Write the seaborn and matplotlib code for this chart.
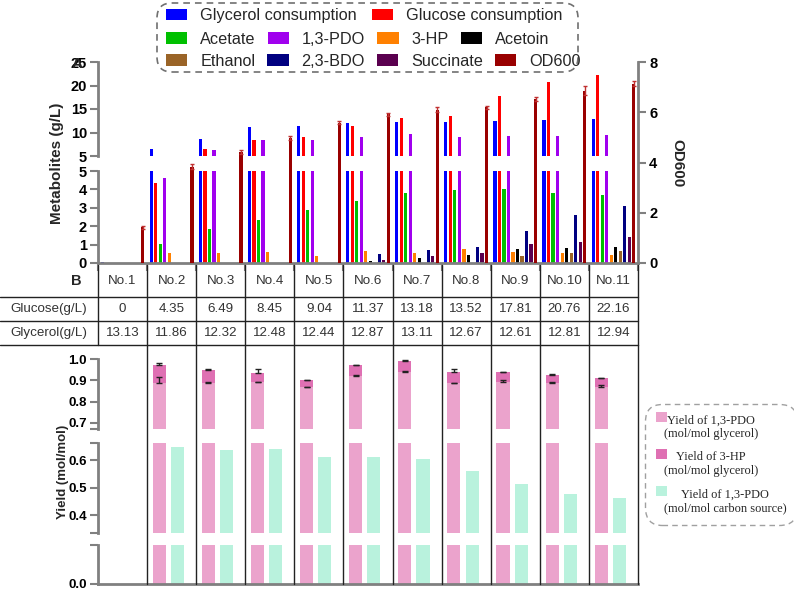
import numpy as np
import pandas as pd
import matplotlib
matplotlib.use("Agg")
import matplotlib.pyplot as plt
import seaborn as sns
from matplotlib import font_manager
from matplotlib.patches import Patch, FancyBboxPatch, Rectangle
from matplotlib.legend_handler import HandlerPatch

# ── Data ──────────────────────────────────────────────────────────────────────
groups = ["No.1", "No.2", "No.3", "No.4", "No.5", "No.6",
          "No.7", "No.8", "No.9", "No.10", "No.11"]

glucose_gl  = [0, 4.35, 6.49, 8.45, 9.04, 11.37, 13.18, 13.52, 17.81, 20.76, 22.16]
glycerol_gl = [13.13, 11.86, 12.32, 12.48, 12.44, 12.87, 13.11, 12.67, 12.61, 12.81, 12.94]

glycerol_cons = [0.08, 6.4, 8.6, 11.2, 11.4, 12.0, 12.2, 12.2, 12.4, 12.7, 12.8]
glucose_cons  = [0, 4.35, 6.49, 8.45, 9.04, 11.37, 13.18, 13.52, 17.81, 20.76, 22.16]
acetate       = [0, 1.03, 1.83, 2.34, 2.9, 3.37, 3.8, 3.97, 4.0, 3.82, 3.72]
pdo           = [0, 4.6, 6.3, 8.4, 8.4, 9.1, 9.6, 9.1, 9.3, 9.3, 9.5]
hp3           = [0, 0.56, 0.53, 0.62, 0.4, 0.67, 0.56, 0.75, 0.58, 0.53, 0.43]
acetoin       = [0, 0, 0, 0, 0, 0.13, 0.25, 0.43, 0.76, 0.8, 0.89]
ethanol       = [0, 0, 0, 0, 0, 0, 0, 0, 0.38, 0.56, 0.67]
bdo           = [0, 0, 0, 0, 0, 0.47, 0.7, 0.87, 1.76, 2.6, 3.1]
succinate     = [0, 0, 0, 0, 0, 0.16, 0.4, 0.56, 1.02, 1.16, 1.43]
od600         = [1.42, 3.84, 4.43, 4.99, 5.59, 5.92, 6.1, 6.2, 6.52, 6.85, 7.13]
od600_err     = [0.05, 0.1, 0.08, 0.08, 0.06, 0.07, 0.1, 0.06, 0.08, 0.18, 0.1]

pdo_yield      = [np.nan, 0.886, 0.889, 0.89, 0.867, 0.92, 0.94, 0.886, 0.893, 0.886, 0.87]
hp_yield       = [np.nan, 0.084, 0.059, 0.046, 0.033, 0.05, 0.049, 0.054, 0.044, 0.039, 0.039]
carbon_yield   = [np.nan, 0.648, 0.636, 0.639, 0.612, 0.611, 0.604, 0.56, 0.512, 0.478, 0.461]
pdo_yield_err  = [np.nan, 0.03, 0.005, 0.003, 0.003, 0.005, 0.005, 0.003, 0.01, 0.004, 0.01]
tot_yield_err  = [np.nan, 0.012, 0.005, 0.018, 0.003, 0.004, 0.004, 0.012, 0.003, 0.003, 0.004]

series_names = ["Glycerol consumption", "Glucose consumption", "Acetate", "1,3-PDO",
                "3-HP", "Acetoin", "Ethanol", "2,3-BDO", "Succinate", "OD600"]
series_values = [glycerol_cons, glucose_cons, acetate, pdo, hp3,
                 acetoin, ethanol, bdo, succinate, od600]
palette = {
    "Glycerol consumption": "#0000FF", "Glucose consumption": "#FF0000",
    "Acetate": "#00C000", "1,3-PDO": "#A000EE", "3-HP": "#FF8000",
    "Acetoin": "#000000", "Ethanol": "#9A6427", "2,3-BDO": "#000080",
    "Succinate": "#5A004F", "OD600": "#990000",
}
LIGHT_PINK, DARK_PINK, TEAL = "#EBA3CC", "#DF70B3", "#B9F2DD"
GRAY = "#808080"

# ── Style ─────────────────────────────────────────────────────────────────────
sns.set_style("ticks")
plt.rcParams['font.family'] = ['Liberation Sans', 'DejaVu Sans']
installed = {f.name for f in font_manager.fontManager.ttflist}
NARROW = 'Liberation Sans Narrow' if 'Liberation Sans Narrow' in installed else 'Liberation Sans'
TABLE_SIZE = 10.5 if NARROW == 'Liberation Sans Narrow' else 9.6

W, H = 794, 591
fig = plt.figure(figsize=(W / 100, H / 100), dpi=100)


def px_axes(x0, y0, x1, y1):
    return fig.add_axes([x0 / W, 1 - y1 / H, (x1 - x0) / W, (y1 - y0) / H])


def style_left(ax, ticks, labels, size):
    ax.set_yticks(ticks, labels, fontweight='bold', fontsize=size)
    ax.tick_params(axis='y', direction='out', length=6, width=1.5, color=GRAY, labelcolor='black', pad=2)
    ax.spines['left'].set_color(GRAY)
    ax.spines['left'].set_linewidth(2)
    for s in ['top', 'right', 'bottom']:
        ax.spines[s].set_visible(False)
    ax.set_xticks([])
    ax.set_xlabel(''); ax.set_ylabel('')
    ax.set_facecolor('none')


def first_line_patch(legend, orig_handle, xdescent, ydescent, width, height, fontsize):
    # square next to the first line of a two-line label
    return Rectangle((-xdescent, -ydescent + 0.85 * fontsize), width, height)


# ── Panel A ───────────────────────────────────────────────────────────────────
wide = pd.DataFrame(dict(zip(series_names, series_values)), index=groups)
long = wide.rename_axis("group").reset_index().melt(id_vars="group", var_name="series", value_name="value")
met_long = long[long.series != "OD600"]
od_long = long[long.series == "OD600"]

bar_kw = dict(x="group", y="value", hue="series", order=groups, hue_order=series_names,
              palette=palette, dodge=True, width=0.92, gap=0.3, saturation=1,
              linewidth=0, errorbar=None, legend=False)

ax_up = px_axes(98, 62, 638, 156)
ax_lo = px_axes(98, 171, 638, 263)
ax_od = px_axes(98, 62, 638, 263)

for ax in (ax_up, ax_lo):
    sns.barplot(data=met_long, ax=ax, **bar_kw)
    ax.set_xlim(-0.5, 10.5)

ax_up.set_ylim(5, 25)
style_left(ax_up, [5, 10, 15, 20, 25], ['5', '10', '15', '20', '25'], 10.5)
ax_lo.set_ylim(0, 5)
style_left(ax_lo, [0, 1, 2, 3, 4, 5], ['0', '1', '2', '3', '4', '5'], 10.5)
ax_lo.spines['bottom'].set_visible(True)
ax_lo.spines['bottom'].set_color(GRAY)
ax_lo.spines['bottom'].set_linewidth(2)
ax_lo.set_xticks(np.arange(-0.5, 11, 1), [''] * 12)
ax_lo.tick_params(axis='x', direction='out', length=6, width=1.5, color=GRAY)

sns.barplot(data=od_long, ax=ax_od, **bar_kw)
ax_od.set_xlim(-0.5, 10.5)
ax_od.set_ylim(0, 8)
ax_od.set_facecolor('none')
od_bars = [p for p in ax_od.patches if p.get_height() > 0]
ax_od.errorbar([p.get_x() + p.get_width() / 2 for p in od_bars],
               [p.get_height() for p in od_bars], yerr=od600_err,
               fmt='none', ecolor='#C03030', elinewidth=1, capsize=1.2, capthick=1)
for s in ['top', 'left', 'bottom']:
    ax_od.spines[s].set_visible(False)
ax_od.spines['right'].set_color(GRAY)
ax_od.spines['right'].set_linewidth(2)
ax_od.yaxis.tick_right()
ax_od.set_yticks([0, 2, 4, 6, 8], ['0', '2', '4', '6', '8'], fontweight='bold', fontsize=10.5)
ax_od.tick_params(axis='y', direction='out', length=6, width=1.5, color=GRAY, labelcolor='black', pad=2)
ax_od.set_xticks([])
ax_od.set_xlabel(''); ax_od.set_ylabel('')

fig.text(57 / W, 1 - 163 / H, "Metabolites (g/L)", rotation=90, fontsize=11,
         fontweight='bold', ha='center', va='center')
fig.text(677 / W, 1 - 163 / H, "OD600", rotation=270, fontsize=11,
         fontweight='bold', ha='center', va='center')
fig.text(77 / W, 1 - 64 / H, "A", fontsize=11, fontweight='bold', ha='center', va='center')

# legend of panel A (three rows in a dashed rounded box)
rows = [series_names[0:2], series_names[2:6], series_names[6:10]]
row_y = [15.7, 39.3, 61.5]
row_gap = [0.95, 0.75, 0.75]
for names, yc, cs in zip(rows, row_y, row_gap):
    fig.legend([Patch(facecolor=palette[n], edgecolor='none') for n in names], names,
               loc='center left', bbox_to_anchor=(166 / W, 1 - yc / H), ncol=len(names),
               frameon=False, borderpad=0, borderaxespad=0, handlelength=1.3,
               handleheight=0.75, handletextpad=0.8, columnspacing=cs,
               prop={'family': 'Liberation Sans', 'size': 11.7})
fig.add_artist(FancyBboxPatch((1.57, (H - 72) / 100), 4.21, 0.69,
                              boxstyle='round,pad=0,rounding_size=0.15',
                              transform=fig.dpi_scale_trans, fill=False,
                              ls=(0, (4, 3)), ec='#707070', lw=1.2))

# ── Panel B: yields (broken axis in three segments) ──────────────────────────
tot_df = pd.DataFrame({
    "group": groups * 2,
    "kind": ["pdo"] * 11 + ["carbon"] * 11,
    "value": list(np.add(pdo_yield, hp_yield)) + carbon_yield,
})
pdo_df = pd.DataFrame({"group": groups, "kind": ["pdo"] * 11, "value": pdo_yield})

ykw = dict(x="group", y="value", hue="kind", order=groups, hue_order=["pdo", "carbon"],
           dodge=True, width=0.74, gap=0.28, saturation=1, linewidth=0,
           errorbar=None, legend=False)

segments = [
    ((359, 429), (0.671, 1.0), [0.671, 0.7, 0.8, 0.9, 1.0], ['', '0.7', '0.8', '0.9', '1.0']),
    ((443, 533), (0.335, 0.662), [0.335, 0.4, 0.5, 0.6, 0.662], ['', '0.4', '0.5', '0.6', '']),
    ((545, 584), (0.0, 0.2), [0.0, 0.2], ['0.0', '']),
]
yield_axes = []
for (y0, y1), lim, ticks, labels in segments:
    ax = px_axes(98, y0, 638, y1)
    sns.barplot(data=tot_df, ax=ax, palette={"pdo": DARK_PINK, "carbon": TEAL}, **ykw)
    n0 = len(ax.patches)
    sns.barplot(data=pdo_df, ax=ax, palette={"pdo": LIGHT_PINK, "carbon": TEAL}, **ykw)
    ax.set_xlim(-0.435, 10.565)
    ax.set_ylim(*lim)
    style_left(ax, ticks, labels, 9.5)
    yield_axes.append((ax, ax.patches[n0:]))

ax_y1, pdo_bars = yield_axes[0]
pdo_bars = [p for p in pdo_bars if np.isfinite(p.get_height()) and p.get_height() > 0]
xs = [p.get_x() + p.get_width() / 2 for p in pdo_bars]
pv = np.array(pdo_yield[1:])
tv = np.add(pdo_yield, hp_yield)[1:]
ax_y1.errorbar(xs, pv, yerr=[np.zeros(10), pdo_yield_err[1:]], fmt='none',
               ecolor='#222222', elinewidth=1, capsize=2.5, capthick=1)
ax_y1.errorbar(xs, tv, yerr=[np.zeros(10), tot_yield_err[1:]], fmt='none',
               ecolor='#222222', elinewidth=1, capsize=2.5, capthick=1)

ax_y3 = yield_axes[2][0]
ax_y3.spines['bottom'].set_visible(True)
ax_y3.spines['bottom'].set_color(GRAY)
ax_y3.spines['bottom'].set_linewidth(2)

fig.text(63 / W, 1 - 472 / H, "Yield (mol/mol)", rotation=90, fontsize=9.5,
         fontweight='bold', ha='center', va='center')

yield_handles = [Patch(facecolor=c, edgecolor='none') for c in (LIGHT_PINK, DARK_PINK, TEAL)]
leg = fig.legend(yield_handles,
                 ["Yield of 1,3-PDO\n(mol/mol glycerol)", "Yield of 3-HP\n(mol/mol glycerol)",
                  "Yield of 1,3-PDO\n(mol/mol carbon source)"],
                 handler_map={Patch: HandlerPatch(patch_func=first_line_patch)},
                 loc='upper left', bbox_to_anchor=(645 / W, 1 - 404 / H), frameon=True,
                 fancybox=True, handlelength=0.95, handleheight=0.95, handletextpad=-0.3,
                 labelspacing=0.9, borderpad=0.85, borderaxespad=0,
                 prop={'family': 'Liberation Serif', 'size': 8.9})
frame = leg.get_frame()
frame.set_linestyle((0, (4, 3)))
frame.set_edgecolor('#888888')
frame.set_linewidth(1)
frame.set_boxstyle('round', pad=0, rounding_size=1.4)
for t in leg.get_texts():
    t.set_multialignment('center')

# ── Table B and column lines ─────────────────────────────────────────────────
ax_grid = px_axes(98, 263, 638, 584)
ax_grid.set_xlim(-0.5, 10.5)
ax_grid.set_ylim(584, 263)
ax_grid.axis('off')
left_frac = -98 / 540
line_kw = dict(color='#222222', lw=1, clip_on=False)
for yl in (297, 321, 345):
    ax_grid.plot([left_frac, 1], [yl, yl], transform=ax_grid.get_yaxis_transform(), **line_kw)
for xb in np.arange(-0.5, 11, 1):
    ax_grid.plot([xb, xb], [265, 345], **line_kw)
for xb in np.arange(0.5, 11, 1):
    ax_grid.plot([xb, xb], [345, 584], **line_kw)

txt_kw = dict(ha='center', va='center', fontsize=TABLE_SIZE, family=NARROW, color='#333333')
for i, g in enumerate(groups):
    ax_grid.text(i, 281, g, **txt_kw)
    ax_grid.text(i, 309, f"{glucose_gl[i]:g}", **txt_kw)
    ax_grid.text(i, 333, f"{glycerol_gl[i]:g}", **txt_kw)
lab_x = -49 / 540
ax_grid.text(lab_x, 309, "Glucose(g/L)", transform=ax_grid.get_yaxis_transform(), **txt_kw)
ax_grid.text(lab_x, 333, "Glycerol(g/L)", transform=ax_grid.get_yaxis_transform(), **txt_kw)
fig.text(76 / W, 1 - 281 / H, "B", fontsize=10.5, fontweight='bold', ha='center', va='center')

fig.savefig('out.png', dpi=100)
